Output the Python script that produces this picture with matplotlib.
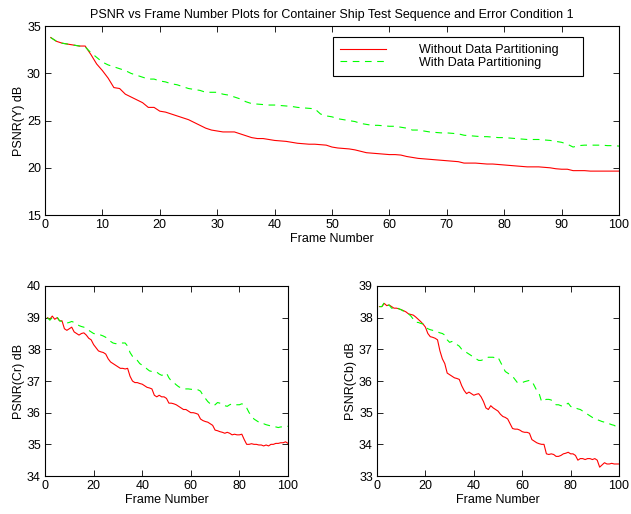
import numpy as np
import matplotlib
matplotlib.use('Agg')
import matplotlib.pyplot as plt

plt.rcParams['font.family'] = ['Liberation Sans', 'DejaVu Sans']
plt.rcParams['font.size'] = 9

frames = np.arange(1, 101)

# PSNR(Y)
y_without = [33.8, 33.4, 33.2, 33.1, 33.0, 32.9, 32.9, 32.0, 31.0, 30.3,
             29.5, 28.5, 28.4, 27.8, 27.5, 27.2, 26.9, 26.4, 26.4, 26.0,
             25.9, 25.7, 25.5, 25.3, 25.1, 24.8, 24.5, 24.2, 24.0, 23.9,
             23.8, 23.8, 23.8, 23.6, 23.4, 23.2, 23.1, 23.1, 23.0, 22.9,
             22.85, 22.8, 22.7, 22.6, 22.55, 22.5, 22.5, 22.45, 22.4, 22.2,
             22.1, 22.05, 22.0, 21.9, 21.75, 21.6, 21.55, 21.5, 21.45, 21.4,
             21.4, 21.35, 21.2, 21.1, 21.0, 20.95, 20.9, 20.85, 20.8, 20.75,
             20.7, 20.65, 20.5, 20.5, 20.5, 20.45, 20.4, 20.4, 20.35, 20.3,
             20.25, 20.2, 20.15, 20.1, 20.1, 20.1, 20.05, 20.0, 19.9, 19.85,
             19.85, 19.7, 19.7, 19.7, 19.65, 19.65, 19.65, 19.65, 19.65, 19.65]
y_with = [33.8, 33.4, 33.2, 33.1, 33.0, 32.9, 32.8, 32.2, 31.7, 31.2,
          30.9, 30.7, 30.5, 30.3, 30.0, 29.8, 29.6, 29.4, 29.4, 29.2,
          29.1, 28.9, 28.8, 28.6, 28.4, 28.3, 28.2, 28.0, 28.0, 28.0,
          27.8, 27.7, 27.5, 27.3, 27.0, 26.8, 26.75, 26.7, 26.65, 26.65,
          26.6, 26.55, 26.5, 26.4, 26.35, 26.3, 26.25, 25.7, 25.5, 25.4,
          25.2, 25.1, 25.0, 24.9, 24.7, 24.6, 24.5, 24.5, 24.45, 24.4,
          24.4, 24.3, 24.2, 24.0, 24.0, 23.9, 23.8, 23.75, 23.7, 23.7,
          23.65, 23.6, 23.45, 23.4, 23.35, 23.3, 23.3, 23.25, 23.2, 23.2,
          23.15, 23.1, 23.05, 23.0, 23.0, 23.0, 22.95, 22.9, 22.8, 22.7,
          22.5, 22.2, 22.35, 22.4, 22.4, 22.4, 22.4, 22.35, 22.35, 22.3]

# PSNR(Cr)
cr_without = [39.0, 38.95, 39.05, 38.95, 39.0, 38.9, 38.9, 38.65, 38.6, 38.65,
              38.7, 38.55, 38.5, 38.45, 38.5, 38.52, 38.45, 38.35, 38.3, 38.15,
              38.05, 37.95, 37.92, 37.9, 37.85, 37.7, 37.6, 37.55, 37.5, 37.45,
              37.4, 37.4, 37.38, 37.4, 37.15, 37.0, 36.95, 36.95, 36.92, 36.9,
              36.85, 36.8, 36.78, 36.75, 36.55, 36.5, 36.55, 36.5, 36.5, 36.45,
              36.3, 36.3, 36.28, 36.25, 36.2, 36.15, 36.1, 36.1, 36.05, 36.0,
              36.0, 35.98, 35.95, 35.8, 35.75, 35.72, 35.7, 35.65, 35.6, 35.45,
              35.43, 35.4, 35.38, 35.35, 35.38, 35.35, 35.3, 35.32, 35.3, 35.3,
              35.32, 35.15, 35.0, 35.0, 35.02, 35.0, 35.0, 34.98, 34.98, 34.95,
              34.98, 34.95, 35.0, 35.0, 35.03, 35.03, 35.05, 35.05, 35.08, 35.03]
cr_with = [39.0, 38.92, 39.0, 39.0, 39.02, 38.9, 38.88, 38.85, 38.83, 38.85,
           38.88, 38.85, 38.8, 38.75, 38.72, 38.7, 38.65, 38.6, 38.55, 38.5,
           38.48, 38.47, 38.45, 38.42, 38.38, 38.3, 38.25, 38.2, 38.18, 38.18,
           38.2, 38.2, 38.2, 38.1, 37.9, 37.78, 37.72, 37.65, 37.55, 37.5,
           37.45, 37.38, 37.32, 37.3, 37.3, 37.28, 37.22, 37.18, 37.2, 37.25,
           37.1, 37.0, 36.95, 36.88, 36.82, 36.78, 36.75, 36.75, 36.75, 36.74,
           36.73, 36.72, 36.72, 36.68, 36.55, 36.45, 36.35, 36.28, 36.22, 36.25,
           36.32, 36.3, 36.28, 36.22, 36.2, 36.25, 36.28, 36.25, 36.25, 36.25,
           36.28, 36.25, 36.15, 36.0, 35.9, 35.8, 35.75, 35.7, 35.65, 35.65,
           35.62, 35.6, 35.58, 35.57, 35.55, 35.53, 35.55, 35.55, 35.57, 35.57]

# PSNR(Cb)
cb_without = [38.35, 38.35, 38.45, 38.38, 38.4, 38.35, 38.3, 38.3, 38.28, 38.25,
              38.22, 38.18, 38.12, 38.1, 38.08, 38.02, 37.95, 37.88, 37.8, 37.7,
              37.5, 37.4, 37.38, 37.35, 37.3, 36.95, 36.7, 36.55, 36.25, 36.2,
              36.15, 36.1, 36.08, 36.05, 35.85, 35.7, 35.6, 35.65, 35.6, 35.55,
              35.58, 35.6, 35.5, 35.35, 35.15, 35.1, 35.22, 35.15, 35.1, 35.05,
              34.95, 34.88, 34.85, 34.8, 34.65, 34.5, 34.48, 34.48, 34.45, 34.4,
              34.38, 34.38, 34.35, 34.15, 34.1, 34.05, 34.02, 34.0, 34.0, 33.7,
              33.68, 33.7, 33.68, 33.62, 33.62, 33.65, 33.7, 33.72, 33.75, 33.7,
              33.7, 33.65, 33.5, 33.55, 33.55, 33.52, 33.55, 33.55, 33.52, 33.55,
              33.5, 33.28, 33.35, 33.42, 33.38, 33.38, 33.4, 33.38, 33.38, 33.38]
cb_with = [38.35, 38.35, 38.48, 38.38, 38.4, 38.3, 38.3, 38.33, 38.28, 38.25,
           38.2, 38.15, 38.12, 38.05, 37.95, 37.85, 37.85, 37.82, 37.8, 37.7,
           37.65, 37.62, 37.6, 37.58, 37.55, 37.52, 37.5, 37.45, 37.3, 37.22,
           37.25, 37.2, 37.15, 37.1, 37.0, 36.95, 36.9, 36.85, 36.8, 36.75,
           36.7, 36.65, 36.65, 36.68, 36.72, 36.75, 36.75, 36.75, 36.72, 36.75,
           36.6, 36.45, 36.3, 36.25, 36.2, 36.15, 36.05, 35.95, 35.95, 35.95,
           35.98, 36.0, 36.02, 36.0, 35.85, 35.7, 35.6, 35.35, 35.4, 35.42,
           35.42, 35.4, 35.3, 35.25, 35.25, 35.22, 35.2, 35.25, 35.3, 35.2,
           35.15, 35.15, 35.12, 35.1, 35.05, 35.0, 34.95, 34.9, 34.85, 34.8,
           34.78, 34.75, 34.72, 34.7, 34.7, 34.65, 34.62, 34.6, 34.55, 34.5]

labels = ['Without Data Partitioning', 'With Data Partitioning']


def style_axes(ax):
    # matlab look: box, inward ticks on all sides
    ax.tick_params(direction='in', top=True, right=True, length=4, width=0.6,
                   labelsize=9, pad=3)
    for s in ax.spines.values():
        s.set_linewidth(0.8)
    ax.set_xlabel('Frame Number', fontsize=9, labelpad=1)


fig = plt.figure(figsize=(6.31, 5.14), dpi=100)

ax1 = fig.add_axes([0.0713, 0.5817, 0.9097, 0.3673])
ax1.plot(frames, y_without, color='#ff0000', lw=0.8, label=labels[0])
ax1.plot(frames, y_with, color='#00ff00', lw=0.8, dashes=(6, 5), label=labels[1])
ax1.set_xlim(0, 100)
ax1.set_ylim(15, 35)
ax1.set_xticks(np.arange(0, 101, 10))
ax1.set_yticks(np.arange(15, 36, 5))
ax1.set_ylabel('PSNR(Y) dB', fontsize=9, labelpad=1.5)
ax1.set_title('PSNR vs Frame Number Plots for Container Ship Test Sequence and Error Condition 1',
              fontsize=9, pad=6)
style_axes(ax1)
leg = ax1.legend(loc='upper left', bbox_to_anchor=(0.502, 0.736, 0.435, 0.206),
                 mode='expand', fancybox=False, edgecolor='black', framealpha=1,
                 handlelength=3.7, handletextpad=2.6, labelspacing=0.05,
                 borderpad=0.55, borderaxespad=0, fontsize=9)
leg.get_frame().set_linewidth(0.8)

ax2 = fig.add_axes([0.0713, 0.0739, 0.3851, 0.3697])
ax2.plot(frames, cr_without, color='#ff0000', lw=0.8)
ax2.plot(frames, cr_with, color='#00ff00', lw=0.8, dashes=(6, 5))
ax2.set_xlim(0, 100)
ax2.set_ylim(34, 40)
ax2.set_xticks(np.arange(0, 101, 20))
ax2.set_ylabel('PSNR(Cr) dB', fontsize=9, labelpad=1.5)
style_axes(ax2)

ax3 = fig.add_axes([0.5975, 0.0739, 0.3835, 0.3697])
ax3.plot(frames, cb_without, color='#ff0000', lw=0.8)
ax3.plot(frames, cb_with, color='#00ff00', lw=0.8, dashes=(6, 5))
ax3.set_xlim(0, 100)
ax3.set_ylim(33, 39)
ax3.set_xticks(np.arange(0, 101, 20))
ax3.set_ylabel('PSNR(Cb) dB', fontsize=9, labelpad=1.5)
style_axes(ax3)

fig.savefig('out.png', dpi=100)
